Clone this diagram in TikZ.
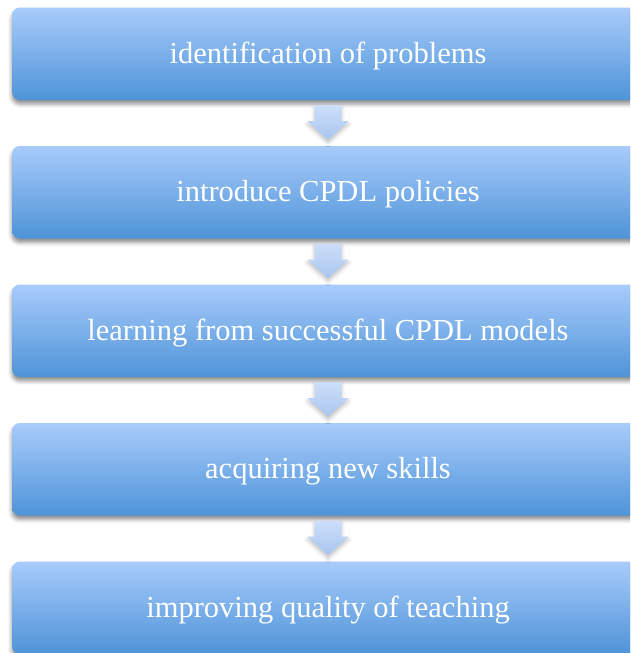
\documentclass[tikz,border=0pt]{standalone}
\usepackage{fontspec}
\setmainfont{Liberation Serif}
\usetikzlibrary{calc,shadows.blur}
\definecolor{boxtop}{HTML}{A8CBFB}
\definecolor{boxbot}{HTML}{4E94D8}
\definecolor{arrtop}{HTML}{CCDEF9}
\definecolor{arrbot}{HTML}{A9C6EF}
\tikzset{
  stepbox/.style={rectangle, rounded corners=8pt, minimum width=632pt, minimum height=92.5pt,
    top color=boxtop, bottom color=boxbot, draw=none, text=white,
    font=\fontsize{30.5}{36}\selectfont, text height=21pt, text depth=2pt,
    blur shadow={shadow xshift=0pt, shadow yshift=-4pt, shadow blur radius=4pt, shadow opacity=45}},
  flowarrow/.style={top color=arrtop, bottom color=arrbot, draw=none,
    blur shadow={shadow xshift=0pt, shadow yshift=-3pt, shadow blur radius=4pt, shadow opacity=25}}
}
\begin{document}
\begin{tikzpicture}[x=1pt,y=-1pt]
  \useasboundingbox (0,0) rectangle (630,653);
  \clip (0,0) rectangle (630,653);
  % process steps
  \node[stepbox] (b1) at (328,53.75)  {identification of problems};
  \node[stepbox] (b2) at (328,192.25) {introduce CPDL policies};
  \node[stepbox] (b3) at (328,330.75) {learning from successful CPDL models};
  \node[stepbox] (b4) at (328,469.25) {acquiring new skills};
  \node[stepbox] (b5) at (328,607.75) {improving quality of teaching};
  % block arrows between consecutive steps
  \foreach \a/\b in {b1/b2,b2/b3,b3/b4,b4/b5}{
    \path[flowarrow]
      ($(\a.south)+(-13.5,5)$) -- ($(\a.south)+(13.5,5)$) --
      ($(\a.south)+(13.5,21)$) -- ($(\a.south)+(20.5,21)$) --
      ($(\b.north)+(0,-6)$) --
      ($(\a.south)+(-20.5,21)$) -- ($(\a.south)+(-13.5,21)$) -- cycle;
  }
\end{tikzpicture}
\end{document}
